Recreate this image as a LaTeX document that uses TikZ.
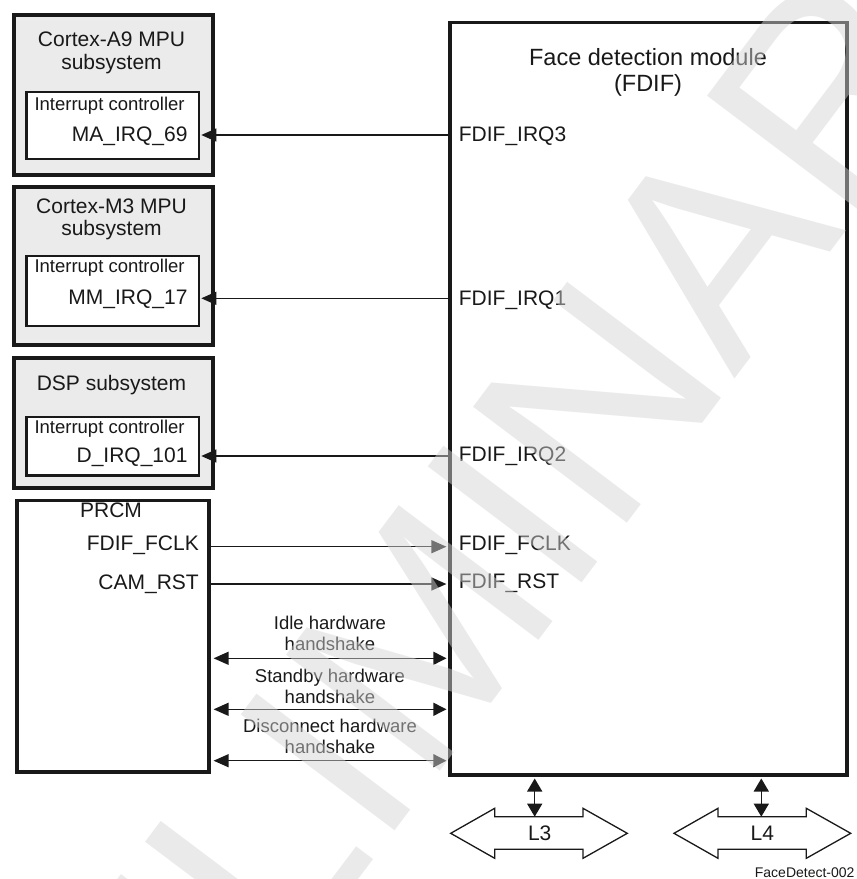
\documentclass[tikz,border=0pt]{standalone}
\usepackage{fontspec}
\setmainfont{Liberation Sans}
\usetikzlibrary{arrows.meta}
\begin{document}
\begin{tikzpicture}[x=1pt,y=-1pt,
  outerbox/.style={draw=black!90, line width=3.6pt, fill=black!8, inner sep=0pt, anchor=north west},
  whitebox/.style={outerbox, fill=white},
  innerbox/.style={draw=black!90, line width=2.2pt, fill=white, inner sep=0pt, anchor=north west},
  lbltext/.style={inner sep=0pt, font=\fontsize{21}{21}\selectfont, text=black!90},
  titletext/.style={inner sep=0pt, font=\fontsize{23.5}{23.5}\selectfont, text=black!90},
  smalltext/.style={inner sep=0pt, font=\fontsize{18.5}{18.5}\selectfont, text=black!90},
  sig/.style={line width=1.3pt, draw=black!90, -{Triangle[length=15pt,width=13pt]}},
  dsig/.style={line width=1.3pt, draw=black!90, {Triangle[length=15pt,width=13pt]}-{Triangle[length=13pt,width=13pt]}},
  vsig/.style={line width=1.3pt, draw=black!90, {Triangle[length=13pt,width=15pt]}-{Triangle[length=13pt,width=15pt]}},
  bus/.style={line width=1.3pt, draw=black!90, fill=white},
]
\useasboundingbox (0,0) rectangle (857,879);

% signal rows
\coordinate (yA) at (0,135);
\coordinate (yM) at (0,298.3);
\coordinate (yD) at (0,456);
\coordinate (yF) at (0,546.7);
\coordinate (yR) at (0,584);
\coordinate (yH1) at (0,658.3);
\coordinate (yH2) at (0,709.3);
\coordinate (yH3) at (0,760.7);

% Cortex-A9
\node[outerbox, minimum width=199.3pt, minimum height=160.3pt] (a9) at (12,13) {};
\node[innerbox, minimum width=172.7pt, minimum height=67.3pt] (a9ic) at (25.3,90.7) {};
\node[lbltext, anchor=base] (a9t1) at (111.5,46.7) {Cortex-A9 MPU};
\node[lbltext, anchor=base] (a9t2) at (111.5,69) {subsystem};
\node[smalltext, anchor=base west] (a9ic1) at (34.3,110) {Interrupt controller};
\node[lbltext, anchor=base east] (a9irq) at (187.7,141.7) {MA\_IRQ\_69};

% Cortex-M3
\node[outerbox, minimum width=199.3pt, minimum height=158.3pt] (m3) at (12,185) {};
\node[innerbox, minimum width=172.7pt, minimum height=70.3pt] (m3ic) at (25.3,254.7) {};
\node[lbltext, anchor=base] (m3t1) at (111.5,213.3) {Cortex-M3 MPU};
\node[lbltext, anchor=base] (m3t2) at (111.5,235.7) {subsystem};
\node[smalltext, anchor=base west] (m3ic1) at (34.3,272.7) {Interrupt controller};
\node[lbltext, anchor=base east] (m3irq) at (187.7,304.3) {MM\_IRQ\_17};

% DSP
\node[outerbox, minimum width=199.3pt, minimum height=130.3pt] (dsp) at (12,356) {};
\node[innerbox, minimum width=172.7pt, minimum height=58.6pt] (dspic) at (25.3,415.7) {};
\node[lbltext, anchor=base] (dspt1) at (111.5,390) {DSP subsystem};
\node[smalltext, anchor=base west] (dspic1) at (34.3,433.3) {Interrupt controller};
\node[lbltext, anchor=base east] (dspirq) at (187.7,462.7) {D\_IRQ\_101};

% PRCM
\node[whitebox, minimum width=191.7pt, minimum height=271.6pt] (prcm) at (15.3,498.7) {};
\node[lbltext, anchor=base] (prcmt) at (111,517.3) {PRCM};
\node[lbltext, anchor=base east] (pclk) at (199,550) {FDIF\_FCLK};
\node[lbltext, anchor=base east] (prst) at (199,589) {CAM\_RST};

% FDIF
\node[whitebox, minimum width=397.3pt, minimum height=752.6pt] (fdif) at (448,20.7) {};
\node[titletext, anchor=base] (ft1) at (648,65) {Face detection module};
\node[titletext, anchor=base] (ft2) at (648,91.7) {(FDIF)};
\node[lbltext, anchor=base west] (fi3) at (458.7,141.7) {FDIF\_IRQ3};
\node[lbltext, anchor=base west] (fi1) at (458.7,305) {FDIF\_IRQ1};
\node[lbltext, anchor=base west] (fi2) at (458.7,461.7) {FDIF\_IRQ2};
\node[lbltext, anchor=base west] (fclk) at (458.7,550) {FDIF\_FCLK};
\node[lbltext, anchor=base west] (frst) at (458.7,588.3) {FDIF\_RST};

% interrupt arrows
\draw[sig, shorten >=1.1pt] (fdif.west |- yA) -- (a9ic.east |- yA);
\draw[sig, shorten >=1.1pt] (fdif.west |- yM) -- (m3ic.east |- yM);
\draw[sig, shorten >=1.1pt] (fdif.west |- yD) -- (dspic.east |- yD);

% PRCM arrows
\draw[sig, shorten >=1.6pt] (prcm.east |- yF) -- (fdif.west |- yF);
\draw[sig, shorten >=1.6pt] (prcm.east |- yR) -- (fdif.west |- yR);
\draw[dsig, shorten <=3pt, shorten >=1.6pt] (prcm.east |- yH1) -- (fdif.west |- yH1);
\draw[dsig, shorten <=3pt, shorten >=1.6pt] (prcm.east |- yH2) -- (fdif.west |- yH2);
\draw[dsig, shorten <=3pt, shorten >=1.6pt] (prcm.east |- yH3) -- (fdif.west |- yH3);

\node[smalltext, anchor=base] (h1a) at (330,629.3) {Idle hardware};
\node[smalltext, anchor=base] (h1b) at (330,650) {handshake};
\node[smalltext, anchor=base] (h2a) at (330,682.7) {Standby hardware};
\node[smalltext, anchor=base] (h2b) at (330,703.3) {handshake};
\node[smalltext, anchor=base] (h3a) at (330,732.7) {Disconnect hardware};
\node[smalltext, anchor=base] (h3b) at (330,753.3) {handshake};

% buses
\draw[bus] (450.7,833.3) -- (494.7,808.3) -- (494.7,816.7) -- (583,816.7) -- (583,808.3) -- (627.3,833.3) -- (583,858.3) -- (583,849.3) -- (494.7,849.3) -- (494.7,858.3) -- cycle;
\draw[bus] (674,833.3) -- (718,808.3) -- (718,816.7) -- (806.3,816.7) -- (806.3,808.3) -- (850.7,833.3) -- (806.3,858.3) -- (806.3,849.3) -- (718,849.3) -- (718,858.3) -- cycle;
\node[lbltext, anchor=base] (l3) at (539.7,840) {L3};
\node[lbltext, anchor=base] (l4) at (762.3,840) {L4};
\coordinate (l3top) at (534.7,816.7);
\coordinate (l4top) at (761.3,816.7);
\draw[vsig, shorten <=1.6pt] (fdif.south -| l3top) -- (l3top);
\draw[vsig, shorten <=1.6pt] (fdif.south -| l4top) -- (l4top);

\node[inner sep=0pt, font=\fontsize{14}{14}\selectfont, text=black!90, anchor=base east] (fig) at (854.7,877.5) {FaceDetect-002};

% watermark
\begin{scope}
\clip (0,0) rectangle (857,879);
\node[rotate=53, anchor=base west, inner sep=0pt, text=black!17, opacity=0.48, font=\fontsize{280}{280}\selectfont] (wm) at (-61,1436) {PRELIMINARY};
\end{scope}
\end{tikzpicture}
\end{document}
